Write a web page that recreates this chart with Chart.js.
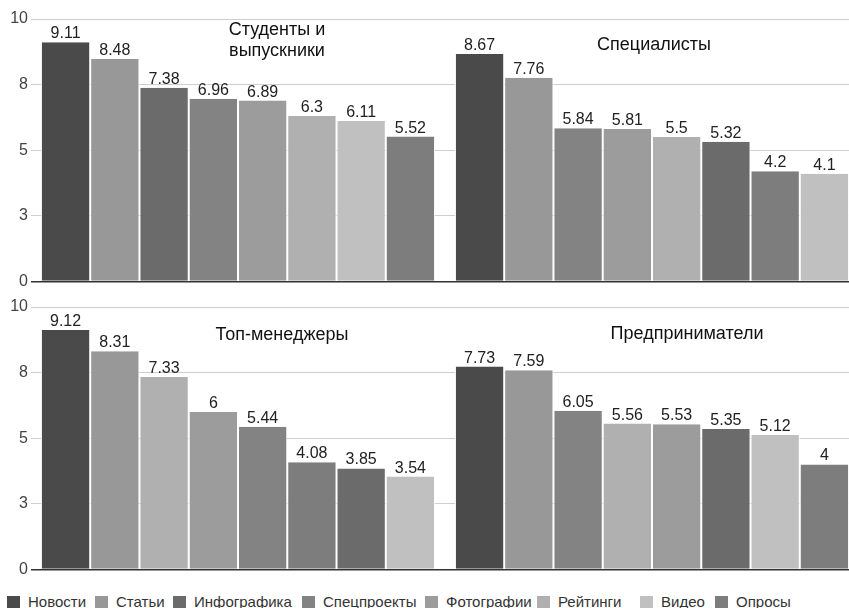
<!DOCTYPE html>
<html>
<head>
<meta charset="utf-8">
<script src="https://cdn.jsdelivr.net/npm/chart.js@4/dist/chart.umd.min.js"></script>
<style>
  html, body { margin: 0; padding: 0; background: #fff; overflow: hidden; width: 849px; height: 608px; }
  #wrap { position: relative; width: 849px; height: 608px; overflow: hidden; }
  .row { position: absolute; left: 0; width: 859px; height: 294px; }
  #legend { position: absolute; left: 0; top: 595px; width: 849px; height: 13px;
            font: 15px "Liberation Sans", Arial, sans-serif; color: #333; }
  .item { position: absolute; top: 0; height: 13px; display: flex; align-items: center; white-space: nowrap; }
  .sw { width: 13px; height: 12px; margin-right: 8px; flex: none; }
</style>
</head>
<body>
<div id="wrap">
  <div class="row" style="top:0"><canvas id="rowTop" width="859" height="294"></canvas></div>
  <div class="row" style="top:288px"><canvas id="rowBottom" width="859" height="294"></canvas></div>
  <div id="legend"></div>
</div>
<script>
// Audience groups (panel titles), content types and their colours
const groups = ['Студенты и\nвыпускники', 'Специалисты', 'Топ-менеджеры', 'Предприниматели'];
const types  = ['Новости', 'Статьи', 'Инфографика', 'Спецпроекты', 'Фотографии', 'Рейтинги', 'Видео', 'Опросы'];
const typeColors = ['#4a4a4a', '#989898', '#6b6b6b', '#838383', '#9c9c9c', '#b0b0b0', '#c0c0c0', '#7d7d7d'];

// Average score per content type (same order as `types`)
const students     = [9.11, 8.48, 7.38, 6.96, 6.89, 6.3, 6.11, 5.52];
const specialists  = [8.67, 7.76, 5.32, 5.84, 5.81, 5.5, 4.1, 4.2];
const managers     = [9.12, 8.31, 3.85, 5.44, 6, 7.33, 3.54, 4.08];
const entrepreneurs = [7.73, 7.59, 5.35, 6.05, 5.53, 5.56, 5.12, 4];

// Y axis
const yMin = 0, yMax = 10, yStep = 2.5;

// Layout: title anchors per panel (px within a row canvas) and legend item offsets
const titleAnchors = [
  { x: 277, y: [30, 51] },
  { x: 654, y: [45] },
  { x: 282, y: [47] },
  { x: 687, y: [46] }
];
const legendLeft = [7, 95, 173, 302, 425, 537, 640, 715];

const FONT = '"Liberation Sans", Arial, sans-serif';

// Bars inside each panel are ordered from highest to lowest score
function ranked(values) {
  return values.map((v, i) => ({ v, t: i })).sort((a, b) => b.v - a.v);
}

function buildDatasets(panelA, panelB) {
  const ra = ranked(panelA), rb = ranked(panelB);
  return types.map((_, r) => ({
    label: 'rank' + (r + 1),
    data: [ra[r].v, rb[r].v],
    backgroundColor: [typeColors[ra[r].t], typeColors[rb[r].t]],
    borderColor: '#ffffff',
    borderWidth: { left: 1, right: 1, top: 0, bottom: 0 },
    borderSkipped: 'bottom'
  }));
}

const valueLabels = {
  id: 'valueLabels',
  afterDatasetsDraw(chart) {
    const ctx = chart.ctx;
    ctx.save();
    ctx.font = '16px ' + FONT;
    ctx.fillStyle = '#222';
    ctx.textAlign = 'center';
    ctx.textBaseline = 'alphabetic';
    chart.data.datasets.forEach((ds, di) => {
      chart.getDatasetMeta(di).data.forEach((el, i) => {
        ctx.fillText(String(ds.data[i]), el.x, el.y - 4);
      });
    });
    ctx.restore();
  }
};

const panelTitles = {
  id: 'panelTitles',
  afterDraw(chart, args, opts) {
    const ctx = chart.ctx;
    ctx.save();
    ctx.font = '18px ' + FONT;
    ctx.fillStyle = '#111';
    ctx.textAlign = 'center';
    ctx.textBaseline = 'middle';
    opts.panels.forEach(p => {
      const lines = groups[p].split('\n');
      lines.forEach((line, li) => ctx.fillText(line, titleAnchors[p].x, titleAnchors[p].y[li]));
    });
    ctx.restore();
  }
};

function makeRow(canvasId, panels, valuesA, valuesB) {
  return new Chart(document.getElementById(canvasId), {
    type: 'bar',
    data: {
      labels: panels.map(p => groups[p].replace('\n', ' ')),
      datasets: buildDatasets(valuesA, valuesB)
    },
    plugins: [valueLabels, panelTitles],
    options: {
      responsive: false,
      animation: false,
      layout: { padding: { top: 19, bottom: 6, left: 0, right: 0 } },
      datasets: { bar: { categoryPercentage: 0.952, barPercentage: 1 } },
      plugins: {
        legend: { display: false },
        tooltip: { enabled: false },
        panelTitles: { panels }
      },
      scales: {
        x: { display: false, offset: true },
        y: {
          min: yMin, max: yMax,
          afterFit(scale) { scale.width = 31; },
          border: { display: false },
          grid: {
            drawTicks: false,
            color: c => c.tick.value === 0 ? '#333' : '#cfcfcf',
            lineWidth: c => c.tick.value === 0 ? 1.5 : 1
          },
          ticks: {
            stepSize: yStep,
            padding: 3,
            color: '#444',
            font: { family: FONT, size: 16 },
            callback: v => String(Math.round(v))
          }
        }
      }
    }
  });
}

makeRow('rowTop', [0, 1], students, specialists);
makeRow('rowBottom', [2, 3], managers, entrepreneurs);

// Legend
const legend = document.getElementById('legend');
types.forEach((name, i) => {
  const item = document.createElement('div');
  item.className = 'item';
  item.style.left = legendLeft[i] + 'px';
  const sw = document.createElement('span');
  sw.className = 'sw';
  sw.style.background = typeColors[i];
  const tx = document.createElement('span');
  tx.textContent = name;
  item.appendChild(sw);
  item.appendChild(tx);
  legend.appendChild(item);
});
</script>
</body>
</html>
